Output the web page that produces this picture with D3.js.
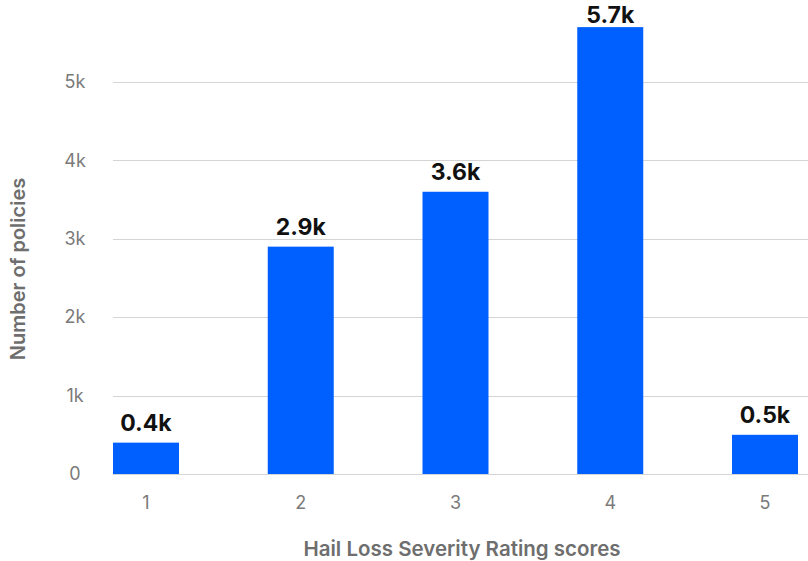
<!DOCTYPE html>
<html>
<head>
<meta charset="utf-8">
<script src="https://cdn.jsdelivr.net/npm/d3@7/dist/d3.min.js"></script>
<style>
  html, body { margin: 0; padding: 0; background: #fff; }
  svg { display: block; }
</style>
</head>
<body>
<svg id="chart" width="808" height="561"></svg>
<script>
// Policy counts by hail loss severity rating
const categories = ["1", "2", "3", "4", "5"];
const policies = [400, 2900, 3600, 5700, 500];
const yTicks = [0, 1000, 2000, 3000, 4000, 5000];
const yTickLabels = ["0", "1k", "2k", "3k", "4k", "5k"];
const xTitle = "Hail Loss Severity Rating scores";
const yTitle = "Number of policies";

const svg = d3.select("#chart");
const W = 808;
const plot = { left: 113, right: 798, top: 82, bottom: 474 };

const x = d3.scaleBand()
  .domain(categories)
  .range([plot.left, plot.right])
  .paddingInner(0.5735)
  .paddingOuter(0);

const y = d3.scaleLinear()
  .domain([0, 5000])
  .range([plot.bottom, plot.top]);

const font = "Inter, 'Liberation Sans', Arial, sans-serif";

// Horizontal grid lines with centred tick labels
const yAxis = d3.axisLeft(y)
  .tickValues(yTicks)
  .tickSize(-(W - plot.left))
  .tickFormat((d, i) => yTickLabels[i]);

const gy = svg.append("g")
  .attr("transform", `translate(${plot.left},0)`)
  .call(yAxis);
gy.select(".domain").remove();
gy.selectAll(".tick line")
  .attr("stroke", "#d4d4d4")
  .attr("stroke-width", 1)
  .attr("shape-rendering", "crispEdges");
gy.selectAll(".tick text")
  .attr("x", 75 - plot.left)
  .attr("text-anchor", "middle")
  .attr("fill", "#7a7a7a")
  .style("font-family", font)
  .style("font-size", "18px");

// Bars
svg.append("g")
  .selectAll("rect")
  .data(policies)
  .join("rect")
  .attr("x", (d, i) => x(categories[i]))
  .attr("y", d => y(d))
  .attr("width", x.bandwidth())
  .attr("height", d => y(0) - y(d))
  .attr("fill", "#0060ff");

// Value labels above bars (kept inside the top edge)
const fmt = d => (d / 1000).toFixed(1) + "k";
svg.append("g")
  .selectAll("text")
  .data(policies)
  .join("text")
  .attr("x", (d, i) => x(categories[i]) + x.bandwidth() / 2)
  .attr("y", d => Math.max(y(d) - 12, 23))
  .attr("text-anchor", "middle")
  .attr("fill", "#111")
  .style("font-family", font)
  .style("font-weight", "700")
  .style("font-size", "23px")
  .text(fmt);

// X axis tick labels
const xAxis = d3.axisBottom(x).tickSize(0).tickPadding(0);
const gx = svg.append("g")
  .attr("transform", `translate(0,${plot.bottom})`)
  .call(xAxis);
gx.select(".domain").remove();
gx.selectAll(".tick text")
  .attr("y", 22)
  .attr("dy", "0.71em")
  .attr("fill", "#7a7a7a")
  .style("font-family", font)
  .style("font-size", "18px");

// Axis titles
svg.append("text")
  .attr("x", 462)
  .attr("y", 556)
  .attr("text-anchor", "middle")
  .attr("fill", "#6e6e6e")
  .style("font-family", font)
  .style("font-weight", "600")
  .style("font-size", "20.5px")
  .text(xTitle);

svg.append("text")
  .attr("transform", "translate(25,269) rotate(-90)")
  .attr("text-anchor", "middle")
  .attr("fill", "#6e6e6e")
  .style("font-family", font)
  .style("font-weight", "600")
  .style("font-size", "20px")
  .text(yTitle);
</script>
</body>
</html>
